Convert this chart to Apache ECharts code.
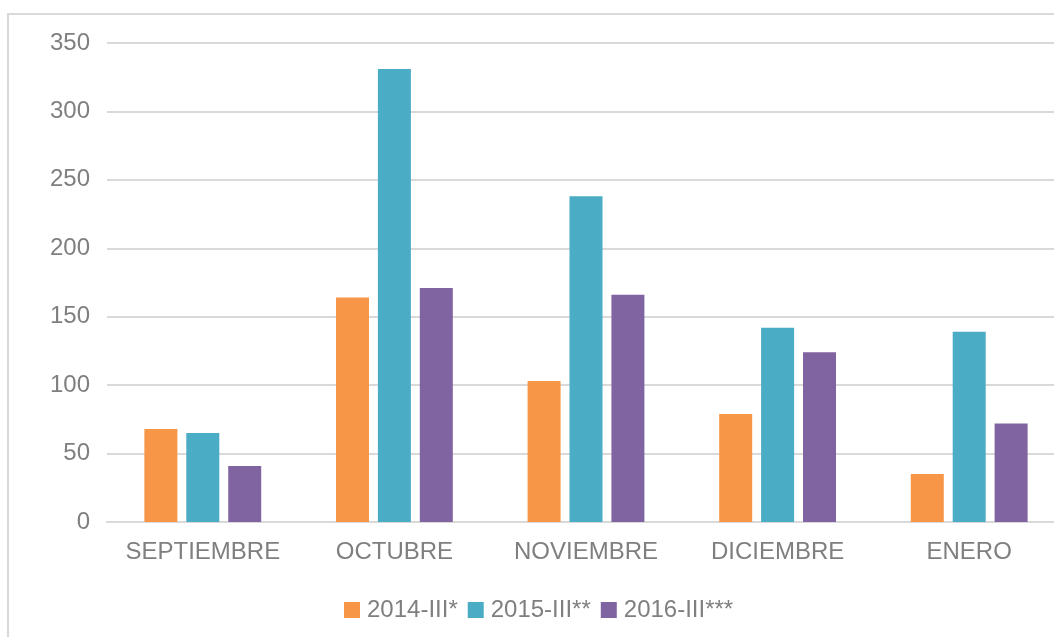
<!DOCTYPE html>
<html>
<head>
<meta charset="utf-8">
<script src="https://cdn.jsdelivr.net/npm/echarts@6/dist/echarts.min.js"></script>
<style>
  html, body { margin: 0; padding: 0; background: #fff; }
  #vis { width: 1054px; height: 637px; }
</style>
</head>
<body>
<div id="vis"></div>
<script>
const months = ['SEPTIEMBRE', 'OCTUBRE', 'NOVIEMBRE', 'DICIEMBRE', 'ENERO'];
const seriesNames = ['2014-III*', '2015-III**', '2016-III***'];
const values2014 = [68, 164, 103, 79, 35];
const values2015 = [65, 331, 238, 142, 139];
const values2016 = [41, 171, 166, 124, 72];
const colors = ['#F79646', '#4BACC6', '#8064A2'];

const font = '"Liberation Sans", Arial, sans-serif';
const textColor = '#7f7f7f';

const chart = echarts.init(document.getElementById('vis'), null, { renderer: 'canvas' });

const data = [values2014, values2015, values2016];

chart.setOption({
  animation: false,
  color: colors,
  graphic: [{
    type: 'rect',
    shape: { x: 8, y: 14, width: 1200, height: 800 },
    style: { fill: 'none', stroke: '#d9d9d9', lineWidth: 2 },
    silent: true
  }],
  grid: {
    left: 107,
    top: 43,
    width: 958,
    height: 479,
    containLabel: false,
    outerBoundsMode: 'none'
  },
  legend: {
    top: 593,
    left: 339,
    itemWidth: 16,
    itemHeight: 16,
    itemGap: 10,
    icon: 'rect',
    textStyle: { fontFamily: font, fontSize: 24, color: textColor, padding: [0, 0, 0, 2] },
    data: seriesNames
  },
  xAxis: {
    type: 'category',
    data: months,
    axisTick: { show: false },
    axisLine: { lineStyle: { color: '#d9d9d9', width: 2 } },
    axisLabel: { interval: 0, fontFamily: font, fontSize: 24, color: textColor, margin: 18 }
  },
  yAxis: {
    type: 'value',
    min: 0,
    max: 350,
    interval: 50,
    axisLine: { show: false },
    axisTick: { show: false },
    splitLine: { lineStyle: { color: '#d9d9d9', width: 2 } },
    axisLabel: { fontFamily: font, fontSize: 24, color: textColor, margin: 17 }
  },
  series: seriesNames.map((name, i) => ({
    name: name,
    type: 'bar',
    data: data[i],
    barWidth: 33,
    barGap: '27%',
    itemStyle: { color: colors[i] }
  }))
});
</script>
</body>
</html>
